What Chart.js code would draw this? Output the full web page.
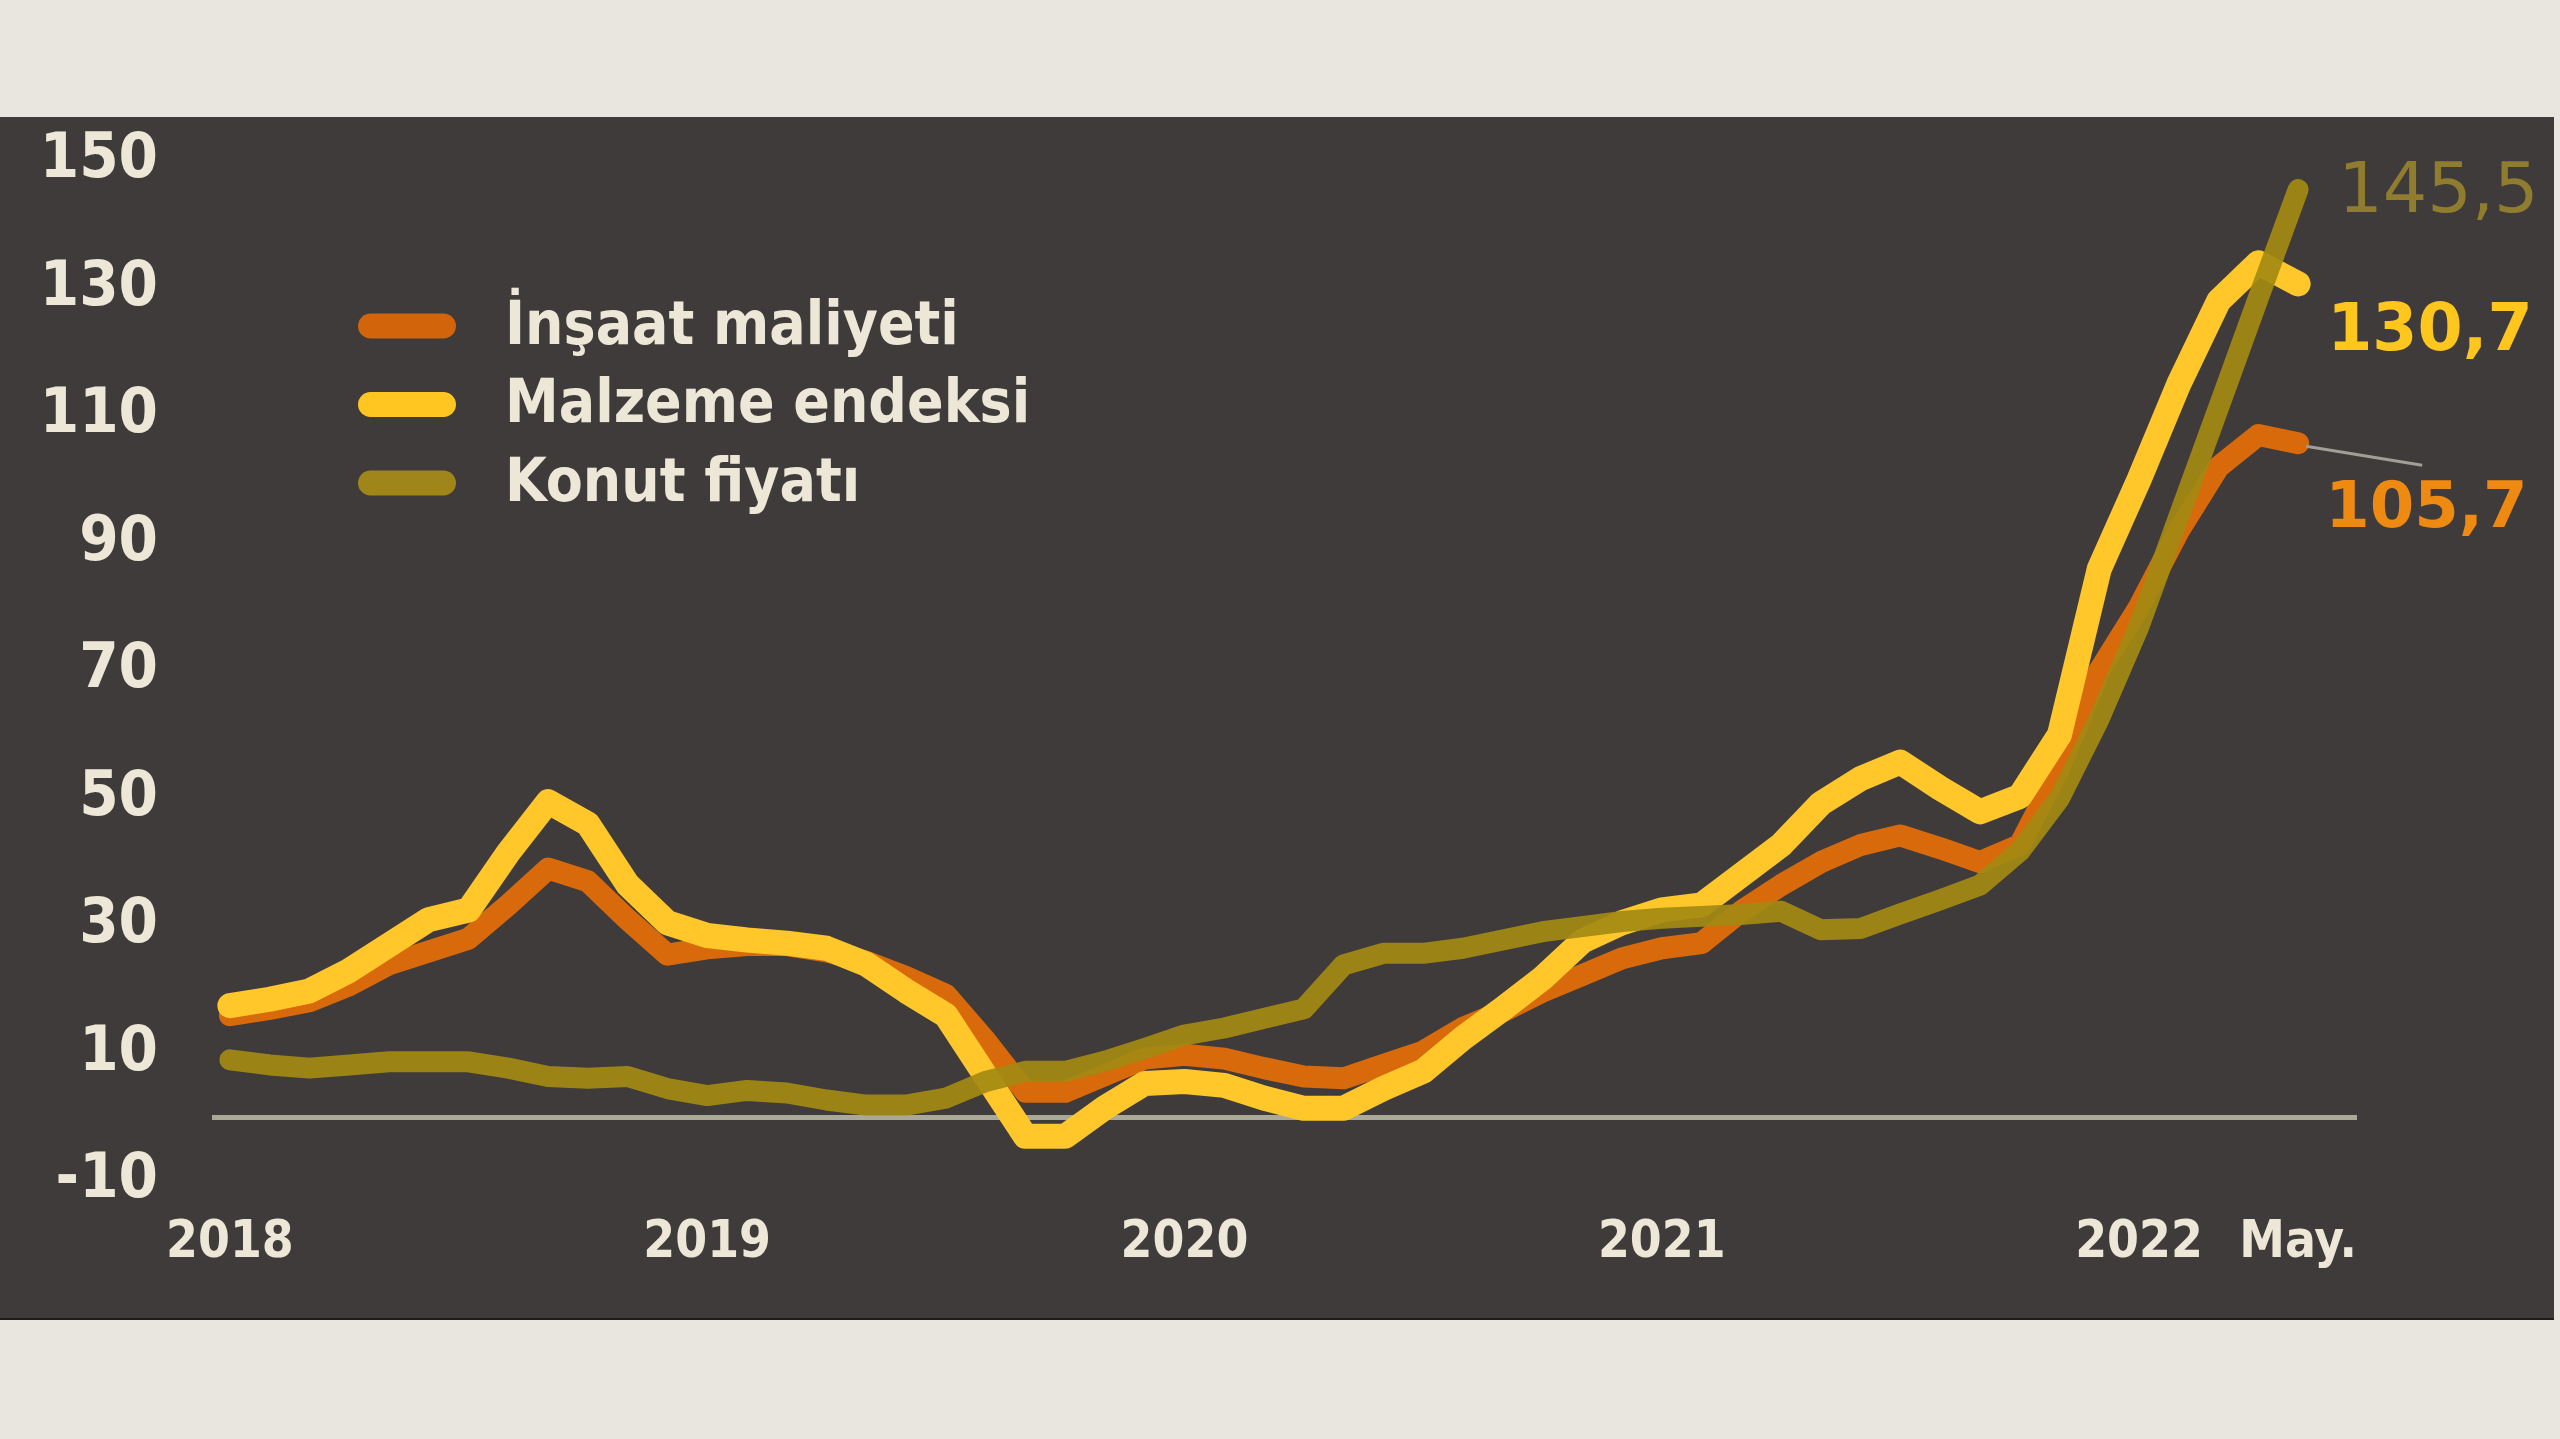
<!DOCTYPE html>
<html>
<head>
<meta charset="utf-8">
<script src="https://cdn.jsdelivr.net/npm/chart.js@4.4.1/dist/chart.umd.min.js"></script>
<style>
  html, body { margin: 0; padding: 0; background: #e9e5df; }
  body { width: 2560px; height: 1439px; position: relative; overflow: hidden; }
  #panel { position: absolute; left: 0; top: 117px; width: 2554px; height: 1201px; background: #3e3b3a; border-bottom: 2px solid #1f1d1c; }
  #panel canvas { display: block; }
</style>
</head>
<body>
<div id="panel"><canvas id="costChart" width="2554" height="1201"></canvas></div>
<script>
const months = [
  '2018-01', '2018-02', '2018-03', '2018-04', '2018-05', '2018-06', '2018-07', '2018-08', '2018-09', '2018-10', '2018-11', '2018-12',
  '2019-01', '2019-02', '2019-03', '2019-04', '2019-05', '2019-06', '2019-07', '2019-08', '2019-09', '2019-10', '2019-11', '2019-12',
  '2020-01', '2020-02', '2020-03', '2020-04', '2020-05', '2020-06', '2020-07', '2020-08', '2020-09', '2020-10', '2020-11', '2020-12',
  '2021-01', '2021-02', '2021-03', '2021-04', '2021-05', '2021-06', '2021-07', '2021-08', '2021-09', '2021-10', '2021-11', '2021-12',
  '2022-01', '2022-02', '2022-03', '2022-04', '2022-05'
];

const insaatMaliyeti = [
  16, 17, 18.2, 20.7, 24, 26, 28, 33.3, 39, 37, 31, 25.5,
  26.5, 27, 27, 26, 24.4, 22, 19.2, 12, 4, 4, 6.6, 9.2,
  9.8, 9.2, 7.7, 6.4, 6.1, 8.2, 10.3, 14, 16.6, 19.7, 22.3, 24.9,
  26.5, 27.3, 32.3, 36.4, 40, 42.7, 44.2, 42.2, 40, 42.7, 54.7, 70,
  80, 92, 102, 107, 105.7
];

const malzemeEndeksi = [
  17.5, 18.5, 19.8, 23, 27, 31, 32.5, 41.5, 49.5, 46, 36.5, 30.5,
  28.5, 27.8, 27.3, 26.5, 24, 19.8, 16, 6.5, -3, -3, 1.5, 5.3,
  5.6, 5, 3, 1.4, 1.4, 4.5, 7.2, 12.4, 17, 21.8, 27.6, 30.5,
  32.5, 33.3, 38, 42.7, 49.2, 53.1, 55.7, 51.6, 47.9, 50.3, 60, 86,
  100, 115, 128, 134, 130.7
];

const konutFiyati = [
  9, 8.2, 7.7, 8.2, 8.7, 8.7, 8.7, 7.7, 6.4, 6.1, 6.4, 4.5,
  3.4, 4.2, 3.8, 2.7, 1.9, 1.9, 3, 5.6, 7.2, 7.2, 8.8, 10.8,
  12.9, 14, 15.5, 17, 23.9, 25.7, 25.7, 26.5, 27.8, 29.1, 29.9, 30.7,
  31.2, 31.5, 31.8, 32.3, 29.4, 29.6, 31.9, 34.1, 36.4, 41.7, 50, 62.5,
  77, 94.2, 111.3, 128.5, 145.5
];

const tickMonths = ['2018-01', '2019-01', '2020-01', '2021-01', '2022-01', '2022-05'];
const tickLabels = ['2018', '2019', '2020', '2021', '2022', 'May.'];

const cream = '#ede7d7';
const condensed = "'DejaVu Sans Condensed', 'DejaVu Sans', sans-serif";
const plain = "'DejaVu Sans', Verdana, sans-serif";

const toPoints = (values) => values.map((v, i) => ({ x: i, y: v }));

// legend inside the plot + value labels at the line ends
const panelDecor = {
  id: 'panelDecor',
  afterDatasetsDraw(chart, args, opts) {
    const c = chart.ctx;
    const lg = opts.legend;
    c.save();
    chart.data.datasets.forEach((ds, i) => {
      const cy = lg.top + i * lg.rowGap;
      c.strokeStyle = lg.swatch[i];
      c.lineWidth = lg.swatchHeight;
      c.lineCap = 'round';
      c.beginPath();
      c.moveTo(lg.x + lg.swatchHeight / 2, cy);
      c.lineTo(lg.x + lg.swatchWidth - lg.swatchHeight / 2, cy);
      c.stroke();
      c.fillStyle = cream;
      c.font = 'bold ' + lg.fontSize + 'px ' + condensed;
      c.textAlign = 'left';
      c.textBaseline = 'middle';
      c.fillText(ds.label, lg.textX, cy + 2);
    });

    chart.data.datasets.forEach((ds, i) => {
      const meta = chart.getDatasetMeta(i);
      const pt = meta.data[meta.data.length - 1];
      const lab = opts.endLabels[i];
      const value = ds.data[ds.data.length - 1].y;
      if (lab.leader) {
        c.strokeStyle = '#a09e95';
        c.lineWidth = 3;
        c.lineCap = 'butt';
        c.beginPath();
        c.moveTo(pt.x + lab.leader[0], pt.y + lab.leader[1]);
        c.lineTo(pt.x + lab.leader[2], pt.y + lab.leader[3]);
        c.stroke();
      }
      c.fillStyle = lab.color;
      c.font = lab.font;
      c.textAlign = 'left';
      c.textBaseline = 'middle';
      c.fillText(value.toFixed(1).replace('.', ','), pt.x + lab.dx, pt.y + lab.dy);
    });
    c.restore();
  }
};

const ctx = document.getElementById('costChart').getContext('2d');

new Chart(ctx, {
  type: 'line',
  data: {
    datasets: [
      {
        label: 'İnşaat maliyeti',
        data: toPoints(insaatMaliyeti),
        borderColor: '#d86a0c',
        borderWidth: 22,
        order: 3
      },
      {
        label: 'Malzeme endeksi',
        data: toPoints(malzemeEndeksi),
        borderColor: '#ffc72a',
        borderWidth: 25,
        order: 2
      },
      {
        label: 'Konut fiyatı',
        data: toPoints(konutFiyati),
        borderColor: 'rgba(163, 138, 18, 0.92)',
        borderWidth: 21,
        order: 1
      }
    ]
  },
  options: {
    responsive: false,
    animation: false,
    layout: { padding: { top: 43, right: 197, left: 0, bottom: 0 } },
    elements: {
      point: { radius: 0, hoverRadius: 0 },
      line: { tension: 0, borderJoinStyle: 'round', borderCapStyle: 'round', fill: false }
    },
    datasets: { line: { clip: false } },
    plugins: {
      legend: { display: false },
      tooltip: { enabled: false },
      panelDecor: {
        legend: {
          x: 358, top: 209, rowGap: 78.5, swatchWidth: 98, swatchHeight: 25,
          textX: 505, fontSize: 60,
          swatch: ['#d2640c', '#ffc520', '#a0861a']
        },
        endLabels: [
          { dx: 27, dy: 67, color: '#ee8a12', font: 'bold 64px ' + plain, leader: [8, 3, 124, 22] },
          { dx: 29, dy: 49, color: '#ffc61e', font: 'bold 65px ' + plain },
          { dx: 40, dy: 4, color: '#8f7c2f', font: '70px ' + plain }
        ]
      }
    },
    scales: {
      x: {
        type: 'linear',
        min: -0.45,
        max: 53.48,
        afterFit: (s) => { s.height = 137; },
        afterBuildTicks: (s) => {
          s.ticks = tickMonths.map((m) => ({ value: months.indexOf(m) }));
        },
        grid: { display: false, drawTicks: false },
        border: { display: false },
        ticks: {
          autoSkip: false,
          maxRotation: 0,
          padding: 32,
          color: cream,
          font: { family: condensed, size: 51, weight: 'bold' },
          callback: (v, i) => tickLabels[i]
        }
      },
      y: {
        min: -10,
        max: 150,
        afterFit: (s) => { s.width = 212; },
        afterBuildTicks: (s) => { s.ticks.push({ value: 0 }); },
        grid: {
          drawTicks: true,
          tickLength: 48,
          tickColor: 'rgba(0,0,0,0)',
          lineWidth: 5,
          color: (c) => (c.tick && c.tick.value === 0 ? '#aaa897' : 'rgba(0,0,0,0)')
        },
        border: { display: false },
        ticks: {
          stepSize: 20,
          autoSkip: false,
          padding: 6,
          color: cream,
          font: { family: condensed, size: 63, weight: 'bold' },
          callback: (v) => (v === 0 ? '' : v)
        }
      }
    }
  },
  plugins: [panelDecor]
});
</script>
</body>
</html>
